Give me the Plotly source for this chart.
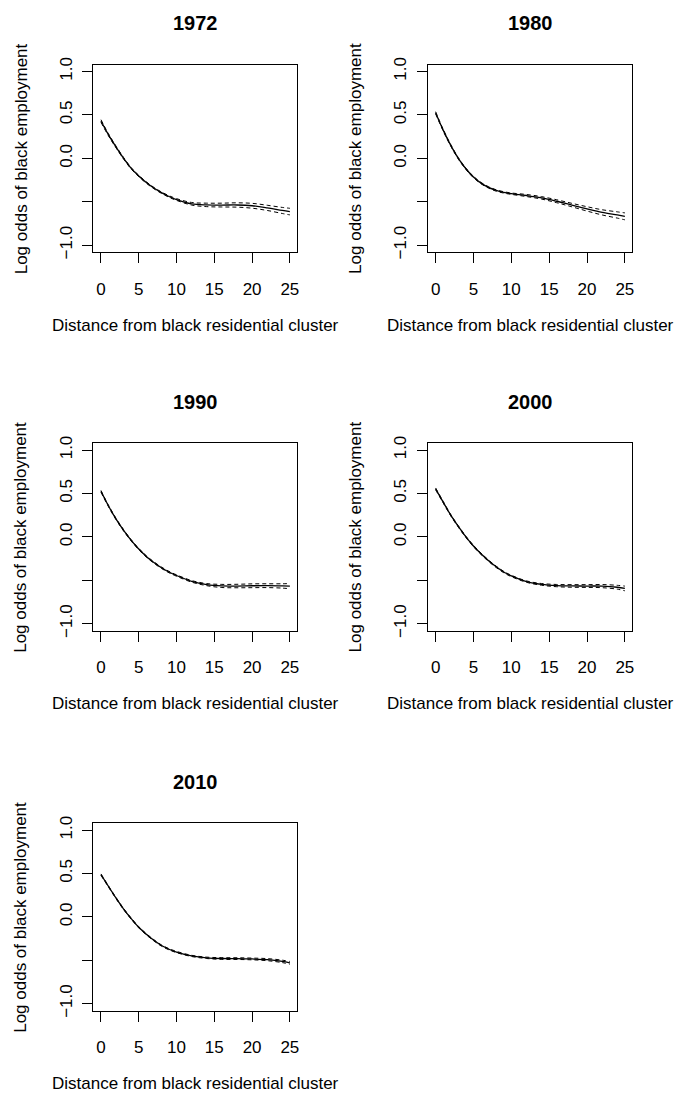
import plotly.graph_objects as go

# ---- data ----
YEARS = ["1972", "1980", "1990", "2000", "2010"]
DIST = [0, 1, 2, 3, 4, 5, 6, 7, 8, 9, 10, 12, 14, 16, 18, 20, 22, 24, 25]

FIT_1972 = [0.43, 0.27, 0.13, 0.00, -0.115, -0.203, -0.278, -0.342, -0.395, -0.439, -0.474,
            -0.523, -0.536, -0.538, -0.537, -0.546, -0.57, -0.60, -0.613]
FIT_1980 = [0.525, 0.325, 0.15, 0.00, -0.12, -0.215, -0.285, -0.335, -0.37, -0.392, -0.407,
            -0.428, -0.455, -0.494, -0.538, -0.582, -0.622, -0.652, -0.668]
FIT_1990 = [0.525, 0.355, 0.205, 0.075, -0.04, -0.14, -0.225, -0.295, -0.355, -0.405, -0.445,
            -0.512, -0.55, -0.565, -0.566, -0.563, -0.562, -0.565, -0.567]
FIT_2000 = [0.553, 0.40, 0.25, 0.12, 0.00, -0.105, -0.195, -0.275, -0.345, -0.405, -0.45,
            -0.515, -0.547, -0.561, -0.565, -0.566, -0.567, -0.58, -0.594]
FIT_2010 = [0.487, 0.35, 0.215, 0.09, -0.02, -0.12, -0.20, -0.27, -0.33, -0.373, -0.405,
            -0.45, -0.472, -0.48, -0.481, -0.485, -0.493, -0.513, -0.53]

# half-width of the dashed confidence band
HW_1972 = [0.015, 0.012, 0.01, 0.009, 0.008, 0.008, 0.008, 0.008, 0.008, 0.009, 0.01,
           0.015, 0.02, 0.022, 0.025, 0.028, 0.03, 0.035, 0.038]
HW_1980 = [0.012, 0.01, 0.009, 0.008, 0.008, 0.008, 0.008, 0.008, 0.008, 0.008, 0.008,
           0.012, 0.014, 0.017, 0.02, 0.025, 0.03, 0.036, 0.04]
HW_1990 = [0.01, 0.009, 0.008, 0.008, 0.008, 0.008, 0.008, 0.008, 0.008, 0.008, 0.008,
           0.009, 0.012, 0.018, 0.02, 0.022, 0.022, 0.025, 0.03]
HW_2000 = [0.01, 0.009, 0.008, 0.008, 0.008, 0.008, 0.008, 0.008, 0.008, 0.008, 0.008,
           0.008, 0.01, 0.013, 0.015, 0.016, 0.018, 0.022, 0.027]
HW_2010 = [0.008, 0.007, 0.007, 0.007, 0.007, 0.007, 0.007, 0.007, 0.007, 0.007, 0.007,
           0.007, 0.008, 0.01, 0.01, 0.01, 0.012, 0.014, 0.016]

FITS = [FIT_1972, FIT_1980, FIT_1990, FIT_2000, FIT_2010]
HWS = [HW_1972, HW_1980, HW_1990, HW_2000, HW_2010]

X_TICKS = [0, 5, 10, 15, 20, 25]
Y_TICKS = [-1.0, -0.5, 0.0, 0.5, 1.0]
Y_TICK_TEXT = ["\u22121.0", "", "0.0", "0.5", "1.0"]

X_TITLE = "Distance from black residential cluster"
Y_TITLE = "Log odds of black employment"

# ---- layout geometry (pixels) ----
W, H = 682, 1101
COLS = [(93.7, 298.3), (429.3, 634.3)]
ROWS = [(58.3, 248.3), (441.7, 631.7), (826.7, 1016.5)]
FONT = "Liberation Sans, Arial, Helvetica, sans-serif"

fig = go.Figure()
annotations = []
layout_axes = {}

for i, year in enumerate(YEARS):
    r, c = divmod(i, 2)
    x0, x1 = COLS[c]
    y0, y1 = ROWS[r]
    n = "" if i == 0 else str(i + 1)
    xa, ya = "x" + n, "y" + n
    fit = FITS[i]
    hw = HWS[i]
    upper = [f + h for f, h in zip(fit, hw)]
    lower = [f - h for f, h in zip(fit, hw)]
    for band in (upper, lower):
        fig.add_trace(go.Scatter(x=DIST, y=band, mode="lines", xaxis=xa, yaxis=ya,
                                 line=dict(color="black", width=1, dash="4px,3px", shape="spline"),
                                 showlegend=False, hoverinfo="skip"))
    fig.add_trace(go.Scatter(x=DIST, y=fit, mode="lines", xaxis=xa, yaxis=ya,
                             line=dict(color="black", width=1.3, shape="spline"),
                             showlegend=False, name=year))

    common = dict(showgrid=False, zeroline=False, showline=True, linecolor="black",
                  linewidth=1, mirror=True, ticks="outside", ticklen=10, tickwidth=1,
                  tickcolor="black", tickfont=dict(family=FONT, size=17, color="black"))
    layout_axes["xaxis" + n] = dict(common, domain=[x0 / W, x1 / W], range=[-1, 26],
                                    tickmode="array", tickvals=X_TICKS, anchor=ya,
                                    ticklabelstandoff=11)
    layout_axes["yaxis" + n] = dict(common, domain=[1 - y1 / H, 1 - y0 / H], range=[-1.08, 1.08],
                                    tickmode="array", tickvals=Y_TICKS, ticktext=Y_TICK_TEXT,
                                    tickangle=-90, anchor=xa, ticklabelstandoff=4)

    cx = (x0 + x1) / 2
    annotations.append(dict(text="<b>" + year + "</b>", x=cx / W, y=1 - (y0 - 42) / H,
                            xref="paper", yref="paper", showarrow=False,
                            xanchor="center", yanchor="middle",
                            font=dict(family=FONT, size=20, color="black")))
    annotations.append(dict(text=X_TITLE, x=cx / W, y=1 - (y1 + 74) / H,
                            xref="paper", yref="paper", showarrow=False,
                            xanchor="center", yanchor="middle",
                            font=dict(family=FONT, size=17, color="black")))
    annotations.append(dict(text=Y_TITLE, x=(x0 - 72.7) / W, y=1 - ((y0 + y1) / 2) / H,
                            xref="paper", yref="paper", showarrow=False, textangle=-90,
                            xanchor="center", yanchor="middle",
                            font=dict(family=FONT, size=17, color="black")))

fig.update_layout(width=W, height=H, margin=dict(l=0, r=0, t=0, b=0),
                  paper_bgcolor="white", plot_bgcolor="white",
                  annotations=annotations, showlegend=False, **layout_axes)

fig.write_html("out.html", config={"displayModeBar": False},
               post_script="document.body.style.margin='0';document.body.style.overflow='hidden';")
